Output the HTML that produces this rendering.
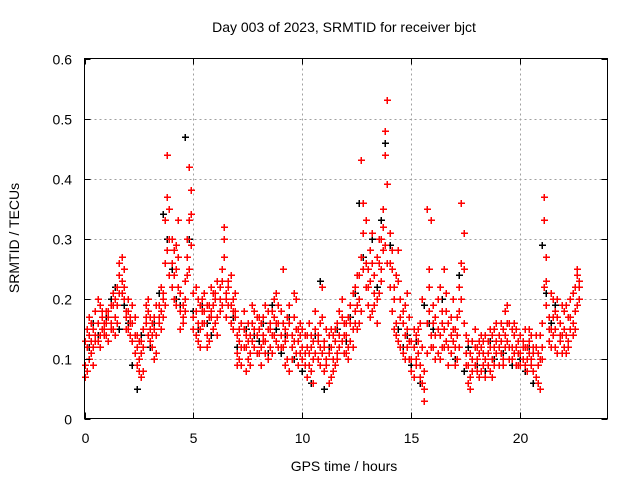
<!DOCTYPE html>
<html><head><meta charset="utf-8"><style>
body{margin:0;background:#fff}
svg{display:block;font-family:"Liberation Sans",sans-serif}
</style></head><body>
<svg id="chart" width="640" height="480">
<rect width="640" height="480" fill="#fff"/>
<g id="grid"></g>
<g id="marks"></g>
<rect x="84.5" y="58.5" width="523" height="360" fill="none" stroke="#000" stroke-width="1"/>
<g id="axes"></g>
<text x="344" y="32" text-anchor="middle" font-size="14">Day 003 of 2023, SRMTID for receiver bjct</text>
<text x="344" y="471" text-anchor="middle" font-size="14">GPS time / hours</text>
<text transform="translate(19,238) rotate(-90)" text-anchor="middle" font-size="14">SRMTID / TECUs</text>
</svg>
<script>
const xTicks=[0,5,10,15,20];
const yTicks=[0,0.1,0.2,0.3,0.4,0.5,0.6];
const yTickLabels=["0","0.1","0.2","0.3","0.4","0.5","0.6"];
const redStep=0.1;
const red1=[9,12,14,11,15,13,16,14,17,15,16,18,15,19,17,22,24,21,25,18,15,17,19,14,12,10,13,8,16,18,15,12,17,19,16,18,20,26,37,30,26,24,29,22,18,17,20,27,33,38,21,18,16,15,20,18,14,17,22,19,20,17,22,25,30,21,19,24,18,21,11,13,9,15,12,10,14,16,12,17,15,12,17,13,10,15,18,14,21,16,14,25,13,10,16,12,21,15,9,14,12,9,14,11,8,13,15,10,12,17,13,10,6,12,14,9,16,12,17,11,14,12,16,21,18,15,24,43,31,22,22,28,18,24,20,26,30,35,48,53,31,25,20,16,23,12,18,14,21,10,8,12,10,15,9,6,3,11,25,33,19,14,11,22,16,12,18,9,14,20,12,17,22,36,25,9,13,7,10,12,10,13,8,11,14,9,12,10,15,11,12,16,10,14,19,12,15,11,9,13,11,13,9,12,15,10,8,12,6,10,12,37,23,17,15,20,12,17,13,19,15,19,13,17,21,22,24,20];
const red2=[7,15,10,16,12,18,13,19,15,14,14,17,19,15,20,16,26,23,20,17,18,14,16,11,9,13,7,15,19,14,13,16,10,14,19,22,17,33,44,24,30,20,25,33,15,19,23,30,42,29,17,22,13,19,16,21,12,19,18,15,16,23,18,19,32,20,23,16,20,17,14,10,16,12,8,13,11,19,15,11,11,16,13,19,15,12,14,17,13,19,18,12,15,17,8,14,17,11,13,16,15,11,7,16,12,10,18,14,9,11,8,15,11,7,10,15,11,18,13,14,11,17,13,15,22,19,16,27,36,26,25,17,31,19,27,21,23,28,44,39,26,18,22,14,28,17,11,19,15,13,13,7,14,11,16,12,8,35,18,14,12,17,15,10,18,25,13,16,11,15,15,10,18,26,31,14,6,11,8,15,12,7,12,9,10,13,8,14,9,13,9,11,15,18,13,16,10,14,12,11,14,10,12,8,11,14,12,7,11,14,16,33,19,13,21,14,18,11,16,14,12,14,17,15,14,18,25,22];
const red3=[13,8,17,13,9,14,20,12,18,16,18,13,16,21,14,19,21,27,22,15,20,16,13,17,14,8,11,12,17,20,17,14,15,11,17,15,21,19,28,35,22,28,19,27,21,16,18,24,25,34,15,14,20,12,18,16,19,13,17,21,21,14,20,23,27,17,22,19,15,18,9,15,12,18,14,16,9,13,18,14,17,9,14,11,18,16,11,20,16,12,12,16,9,14,19,10,13,20,15,11,10,14,12,9,14,6,11,13,16,22,12,9,14,15,8,13,10,14,20,16,16,10,19,12,16,24,20,18,25,33,19,23,26,21,16,30,25,32,29,26,22,28,15,24,13,20,16,10,12,17,10,15,9,13,7,20,5,16,22,12,16,10,20,14,12,15,21,12,17,13,9,14,12,20,16,11,9,5,13,9,8,11,14,13,7,11,15,7,12,16,14,13,9,12,16,10,12,16,15,9,9,12,15,10,13,9,11,14,9,5,10,22,27,15,12,17,15,20,14,11,18,11,12,20,16,15,19,23];
const blackStep=0.2;
const black1=[7,12,16,14,18,17,20,22,15,19,16,9,5,14,17,12,16,21,34,30,25,20,19,47,30,18,15,19,16,14,21,18,27,22,17,12,9,15,11,14,13,16,11,19,15,11,14,17,10,13,8,12,6,14,23,5,12,8,15,13,13,17,21,36,27,25,30,22,33,46,29,20,15,12,14,9,13,6,19,16,15,11,20,13,17,10,24,8,12,10,9,12,8,13,10,14,11,13,9,12,10,8,12,6,9,29,21,16,19,14,18,13,21];
const X0=84.5,X1=607.5,Y0=418.5,Y1=58.5,XMAX=24,YMAX=0.6;
const sx=v=>X0+(X1-X0)*v/XMAX, sy=v=>Y0-(Y0-Y1)*v/YMAX;
const NS="http://www.w3.org/2000/svg";
function mk(tag,attrs,parent){const e=document.createElementNS(NS,tag);for(const k in attrs)e.setAttribute(k,attrs[k]);parent.appendChild(e);return e;}
const grid=document.getElementById('grid'),axes=document.getElementById('axes'),marks=document.getElementById('marks');
xTicks.forEach((t,i)=>{const x=Math.round(sx(t))+0.5;
 if(t>0){const g=mk('line',{x1:x,x2:x,y1:Y1,y2:Y0,stroke:'#a0a0a0','stroke-dasharray':'2,3'},grid);
 
 }
 const tk=mk('line',{x1:x,x2:x,y1:Y0,y2:Y0-6,stroke:'#000'},axes);
 
 
 const tk2=mk('line',{x1:x,x2:x,y1:Y1,y2:Y1+6,stroke:'#000'},axes);
 
 
 const l=mk('text',{x:x,y:443,'text-anchor':'middle','font-size':'14'},axes);l.textContent=String(t);
 
 
});
yTicks.forEach((t,i)=>{const y=Math.round(sy(t))+0.5;
 if(t>0&&t<YMAX){const g=mk('line',{x1:X0,x2:X1,y1:y,y2:y,stroke:'#a0a0a0','stroke-dasharray':'2,3'},grid);
 
 }
 const tk=mk('line',{x1:X0,x2:X0+6,y1:y,y2:y,stroke:'#000'},axes);
 
 
 const tk2=mk('line',{x1:X1,x2:X1-6,y1:y,y2:y,stroke:'#000'},axes);
 
 
 const l=mk('text',{x:72,y:y+5,'text-anchor':'end','font-size':'14'},axes);l.textContent=yTickLabels[i];
 
 
});
function crossPath(vals,step){let d='';
 vals.forEach((v,i)=>{const x=Math.round(sx(i*step)),y=Math.round(sy(v/100));d+=`M${x-3} ${y}H${x+4}M${x} ${y-3}V${y+4}`;});
 return d;}
function series(d,color,name){
 const p=mk('path',{d:d,stroke:color,'stroke-width':'1.5',fill:'none','shape-rendering':'crispEdges'},marks);
 
 
}
series(crossPath(black1,blackStep),'#000000','black-series');
series(crossPath(red1,redStep)+crossPath(red2,redStep)+crossPath(red3,redStep),'#ff0000','red-series');
</script>
</body></html>
